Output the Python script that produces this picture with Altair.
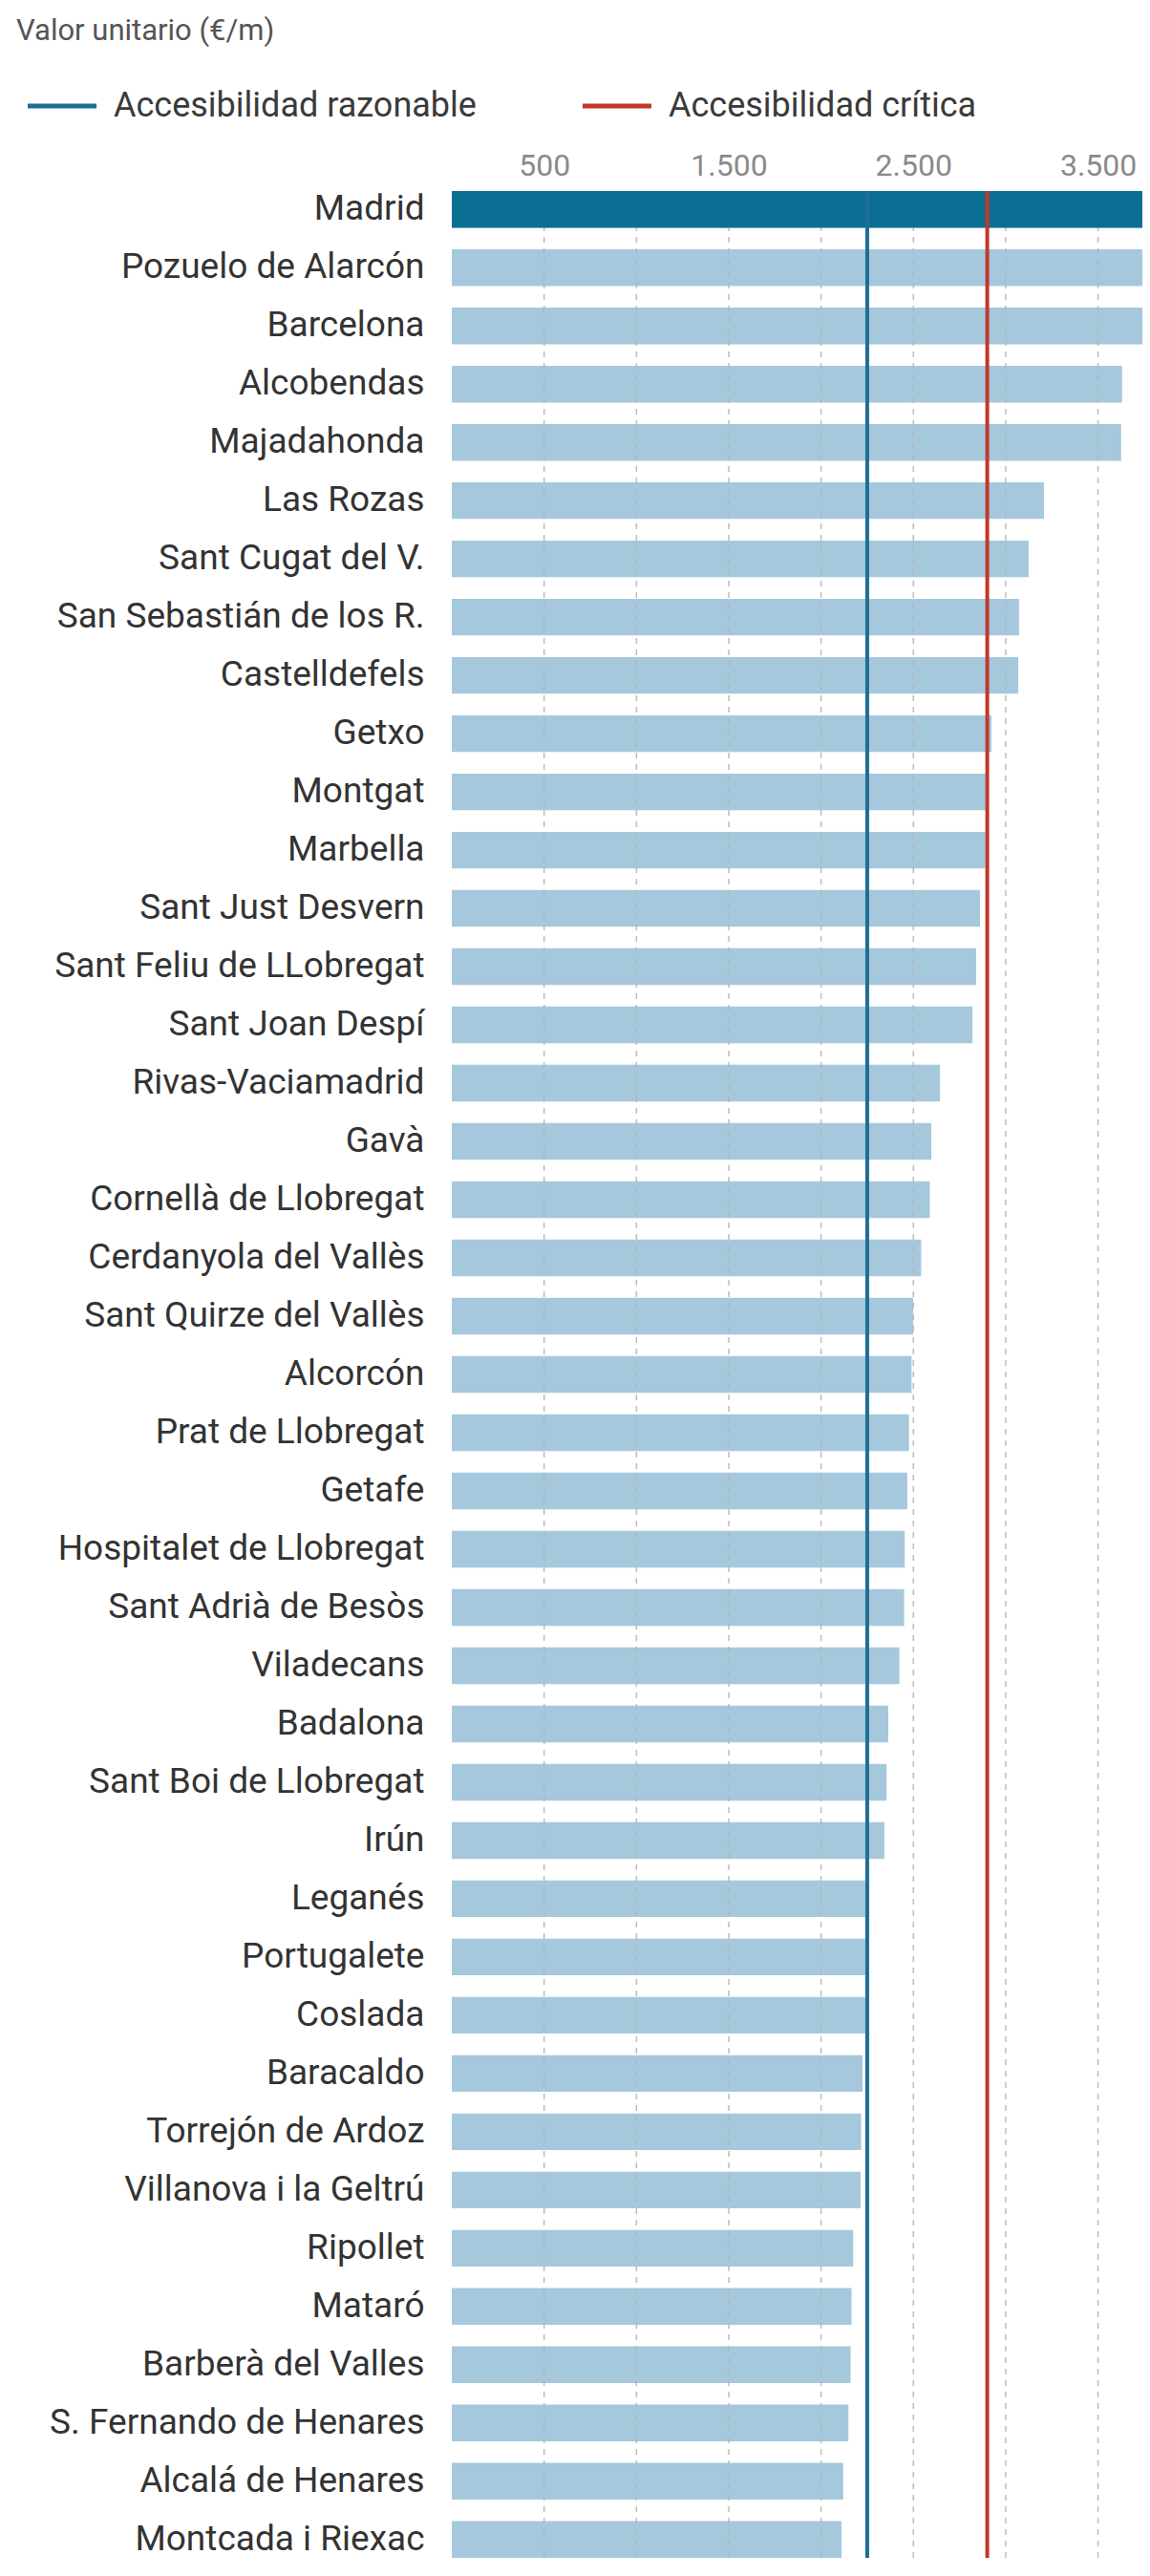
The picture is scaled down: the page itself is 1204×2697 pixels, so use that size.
import altair as alt
import pandas as pd

subtitulo = "Valor unitario (€/m)"

municipios = [
    "Madrid", "Pozuelo de Alarcón", "Barcelona", "Alcobendas", "Majadahonda",
    "Las Rozas", "Sant Cugat del V.", "San Sebastián de los R.", "Castelldefels",
    "Getxo", "Montgat", "Marbella", "Sant Just Desvern", "Sant Feliu de LLobregat",
    "Sant Joan Despí", "Rivas-Vaciamadrid", "Gavà", "Cornellà de Llobregat",
    "Cerdanyola del Vallès", "Sant Quirze del Vallès", "Alcorcón", "Prat de Llobregat",
    "Getafe", "Hospitalet de Llobregat", "Sant Adrià de Besòs", "Viladecans",
    "Badalona", "Sant Boi de Llobregat", "Irún", "Leganés", "Portugalete", "Coslada",
    "Baracaldo", "Torrejón de Ardoz", "Villanova i la Geltrú", "Ripollet", "Mataró",
    "Barberà del Valles", "S. Fernando de Henares", "Alcalá de Henares",
    "Montcada i Riexac",
]
valores = [
    4300, 3850, 3770, 3630, 3625,
    3207, 3124, 3072, 3068,
    2923, 2892, 2890, 2861, 2840,
    2820, 2644, 2597, 2589,
    2542, 2499, 2490, 2476,
    2467, 2453, 2450, 2424,
    2364, 2355, 2343, 2261, 2258, 2250,
    2225, 2217, 2214, 2174, 2165,
    2160, 2148, 2120,
    2111,
]
destacado = "Madrid"

umbrales = ["Accesibilidad razonable", "Accesibilidad crítica"]
umbral_valores = [2250, 2900]
umbral_colores = ["#1f6e95", "#c0392b"]

rejilla = [500, 1000, 1500, 2000, 2500, 3000, 3500]
etiquetas_x = [500, 1500, 2500, 3500]

X_DOMINIO = [0, 3740]
PLOT_W, PLOT_H = 723, 2478
PAD_L, PAD_T = 465, 192

df = pd.DataFrame({"municipio": municipios, "valor": valores})
df_u = pd.DataFrame({"umbral": umbrales, "valor": umbral_valores})
df_g = pd.DataFrame({"valor": rejilla})
df_t = pd.DataFrame({"texto": [subtitulo]})

xs = alt.Scale(domain=X_DOMINIO, nice=False, zero=True)
ys = alt.Scale(paddingInner=0.37, paddingOuter=0)

y_axis = alt.Axis(title=None, domain=False, ticks=False, labelPadding=29,
                  labelFont="Roboto", labelFontSize=37, labelColor="#333333",
                  labelLimit=600)
x_axis = alt.Axis(orient="top", title=None, values=etiquetas_x,
                  labelExpr="replace(format(datum.value, ','), ',', '.')",
                  domain=False, ticks=False, grid=False, labelPadding=10,
                  labelFont="Roboto", labelFontSize=32, labelColor="#8a8a8a")

base = alt.Chart(df)
barras = base.mark_bar(color="#a6c8dd", clip=True).encode(
    x=alt.X("valor:Q", scale=xs, axis=x_axis),
    y=alt.Y("municipio:N", sort=municipios, scale=ys, axis=y_axis),
)
grid = alt.Chart(df_g).mark_rule(color="#b5b5b5", strokeWidth=1.5,
                                 strokeDash=[6, 6], opacity=0.9).encode(
    x=alt.X("valor:Q", scale=xs)
)
madrid = base.transform_filter(alt.datum.municipio == destacado).mark_bar(
    color="#0b6f93", clip=True
).encode(
    x=alt.X("valor:Q", scale=xs),
    y=alt.Y("municipio:N", sort=municipios, scale=ys),
)
lineas = alt.Chart(df_u).mark_rule(strokeWidth=4).encode(
    x=alt.X("valor:Q", scale=xs),
    color=alt.Color(
        "umbral:N",
        scale=alt.Scale(domain=umbrales, range=umbral_colores),
        legend=alt.Legend(
            title=None, orient="none", legendX=-447, legendY=-128,
            direction="horizontal", symbolType="stroke", symbolSize=5200,
            symbolStrokeWidth=5, labelOffset=15, columnPadding=100,
            labelFont="Roboto", labelFontSize=36, labelColor="#3a3a3a",
            labelLimit=700,
        ),
    ),
)
sub = alt.Chart(df_t).mark_text(
    align="left", baseline="middle", font="Roboto", fontSize=31, color="#555555"
).encode(x=alt.value(-456), y=alt.value(-167), text="texto:N")

chart = alt.layer(barras, grid, madrid, lineas, sub).properties(
    width=PLOT_W, height=PLOT_H,
    padding={"left": PAD_L, "top": PAD_T, "right": 0, "bottom": 0},
    autosize=alt.AutoSizeParams(type="none"),
).configure_view(stroke=None)

chart.save("out.html", embed_options={"renderer": "svg", "actions": False})
